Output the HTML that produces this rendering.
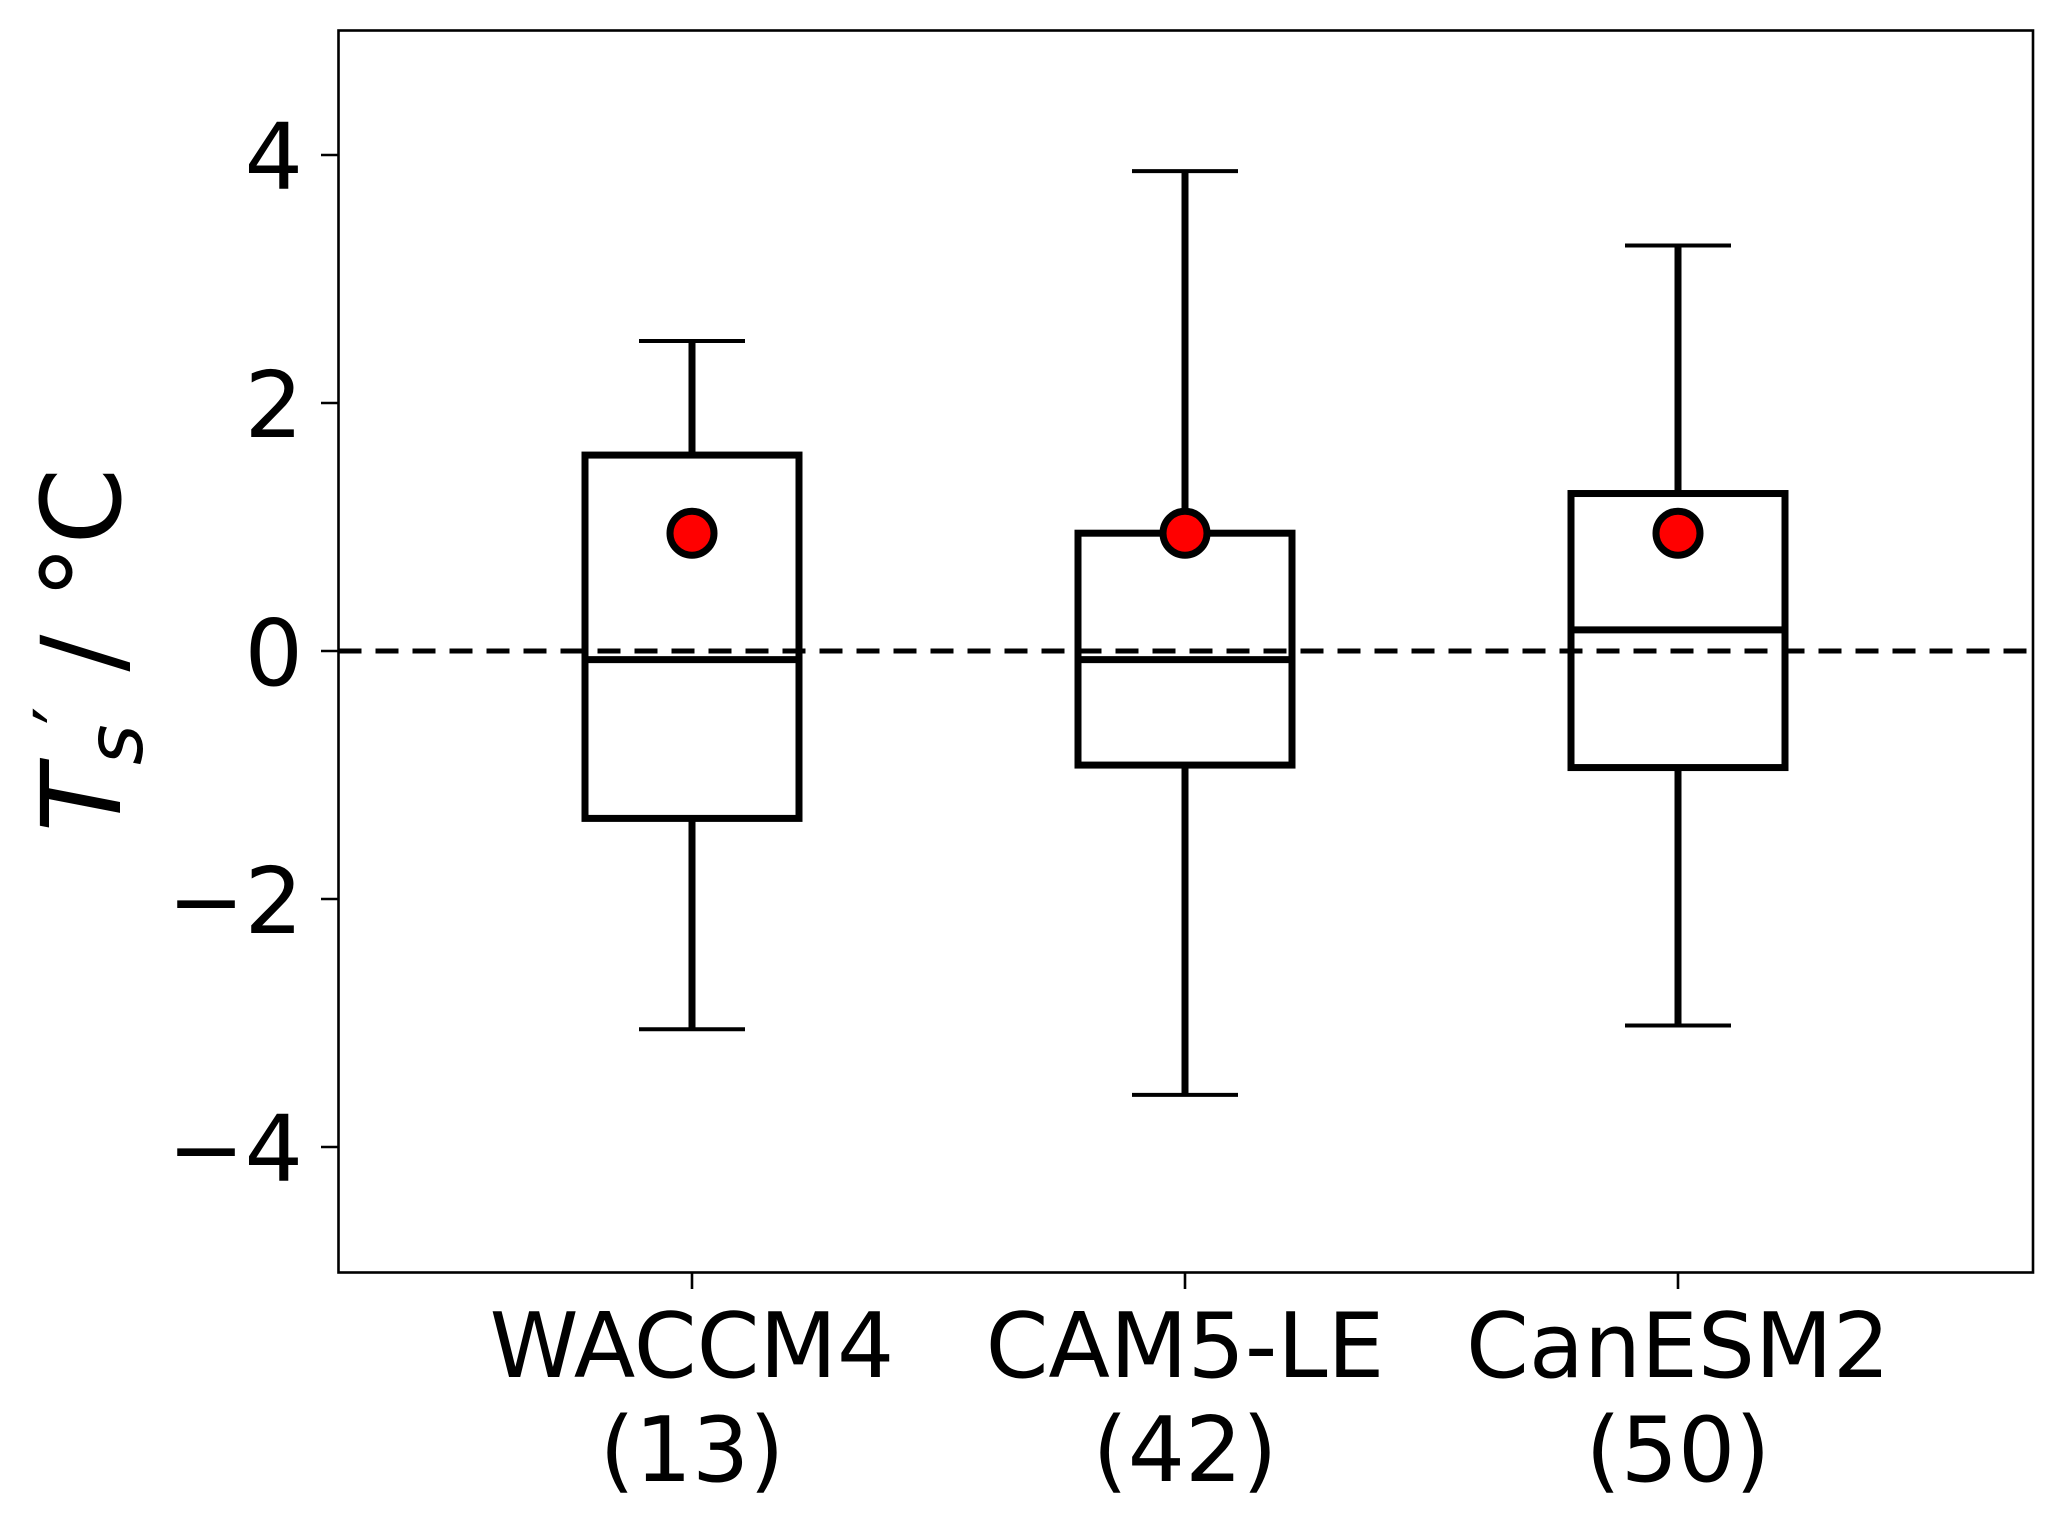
<!DOCTYPE html>
<html><head><meta charset="utf-8"><style>
html,body{margin:0;padding:0;background:#fff;}
svg{display:block;font-family:"DejaVu Sans","Liberation Sans",sans-serif;}
</style></head><body>
<svg id="chart" width="2067" height="1528" viewBox="0 0 2067 1528" xmlns="http://www.w3.org/2000/svg">
<rect width="2067" height="1528" fill="#fff"/>
<g id="plot"></g>
<rect x="338.5" y="30.5" width="1694.5" height="1242" fill="none" stroke="#000" stroke-width="2.6"/>
<g transform="translate(120,650) rotate(-90)">
<text text-anchor="middle" font-size="110" fill="#000"><tspan font-style="italic">T</tspan><tspan font-style="italic" font-size="78" dy="22">s</tspan><tspan font-size="78" dy="-52">′</tspan><tspan dy="30"> / °C</tspan></text>
</g>
</svg>
<script>
const categories = ["WACCM4","CAM5-LE","CanESM2"];
const counts = ["(13)","(42)","(50)"];
const whiskerHigh = [2.5, 3.87, 3.27];
const whiskerLow = [-3.05, -3.58, -3.02];
const q3 = [1.58, 0.95, 1.27];
const q1 = [-1.35, -0.92, -0.94];
const medians = [-0.07, -0.07, 0.17];
const observed = [0.95, 0.95, 0.95];
const yTicks = [-4, -2, 0, 2, 4];
const yTickLabels = ["\u22124", "\u22122", "0", "2", "4"];

const NS = "http://www.w3.org/2000/svg";
const plot = document.getElementById('plot');
const y = v => 651 - v * 124;
const x = i => 692 + i * 493;
function mk(tag, attrs, parent) {
  const e = document.createElementNS(NS, tag);
  for (const k in attrs) e.setAttribute(k, attrs[k]);
  (parent || plot).appendChild(e);
  return e;
}
yTicks.forEach((t, i) => {
  const tk = mk('line', {x1: 321, x2: 338.5, y1: y(t), y2: y(t), stroke: '#000', 'stroke-width': 2.6});
  
  
  const lb = mk('text', {x: 303, y: y(t) + 34, 'text-anchor': 'end', 'font-size': 92, fill: '#000'});
  lb.textContent = yTickLabels[i];
  
  
});
const zl = mk('line', {x1: 338.5, x2: 2033, y1: y(0), y2: y(0), stroke: '#000', 'stroke-width': 5, 'stroke-dasharray': '23 14'});


const hw = 107, cw = 53, lw = 7;
categories.forEach((c, i) => {
  const cx = x(i);
  const g = mk('g', {});
  
  
  mk('line', {x1: cx, x2: cx, y1: y(q3[i]), y2: y(whiskerHigh[i]), stroke: '#000', 'stroke-width': lw}, g);
  mk('line', {x1: cx, x2: cx, y1: y(q1[i]), y2: y(whiskerLow[i]), stroke: '#000', 'stroke-width': lw}, g);
  mk('line', {x1: cx - cw, x2: cx + cw, y1: y(whiskerHigh[i]), y2: y(whiskerHigh[i]), stroke: '#000', 'stroke-width': 4}, g);
  mk('line', {x1: cx - cw, x2: cx + cw, y1: y(whiskerLow[i]), y2: y(whiskerLow[i]), stroke: '#000', 'stroke-width': 4}, g);
  mk('rect', {x: cx - hw, y: y(q3[i]), width: 2 * hw, height: y(q1[i]) - y(q3[i]), fill: 'none', stroke: '#000', 'stroke-width': lw}, g);
  mk('line', {x1: cx - hw, x2: cx + hw, y1: y(medians[i]), y2: y(medians[i]), stroke: '#000', 'stroke-width': lw}, g);
  const dot = mk('circle', {cx: cx, cy: y(observed[i]), r: 22, fill: '#f00', stroke: '#000', 'stroke-width': 7});
  
  
  const tk = mk('line', {x1: cx, x2: cx, y1: 1272, y2: 1289, stroke: '#000', 'stroke-width': 2.6});
  
  
  const l1 = mk('text', {x: cx, y: 1377, 'text-anchor': 'middle', 'font-size': 90, fill: '#000'});
  l1.textContent = c;
  
  
  const l2 = mk('text', {x: cx, y: 1481, 'text-anchor': 'middle', 'font-size': 90, fill: '#000'});
  l2.textContent = counts[i];
  
  
});
</script>
</body></html>
